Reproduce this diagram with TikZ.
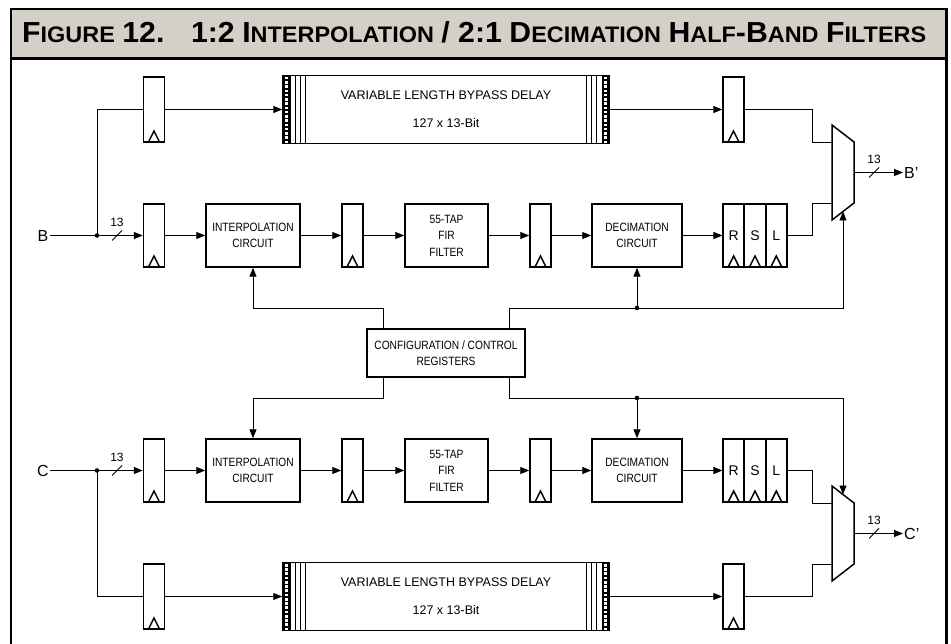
\documentclass[tikz,border=0pt]{standalone}
\usepackage{fontspec}
\setmainfont{Liberation Sans}
\newfontfamily\narrowsf[FakeStretch=0.85]{Liberation Sans}
\newfontfamily\titlesf{Liberation Sans}
\usepackage{graphicx}
\usepackage{tikz}
\usetikzlibrary{arrows.meta, positioning, calc}
\definecolor{titlegray}{HTML}{D4D0C8}
\newcommand\tcap[1]{{\fontsize{29}{29}\selectfont#1}}
\newcommand\tsm[1]{{\fontsize{22.5}{22.5}\selectfont#1}}
\tikzset{
  wire/.style={line width=0.9pt},
  arr/.style={wire, -{Triangle[length=9pt, width=7pt]}},
  reg/.style={rectangle, draw, line width=1.5pt, minimum width=21pt, minimum height=63pt, inner sep=0pt, font=\fontsize{14}{14}\selectfont,
    path picture={\draw[line width=1.5pt, line join=miter] ([xshift=-5.5pt]path picture bounding box.south) -- ([yshift=11pt]path picture bounding box.south) -- ([xshift=5.5pt]path picture bounding box.south);}},
  blk/.style={rectangle, draw, line width=1.5pt, minimum height=63pt, align=center, font=\narrowsf\fontsize{12}{16.5}\selectfont, inner sep=2pt},
  dly/.style={rectangle, draw, line width=1.5pt, minimum width=326pt, minimum height=68pt, align=center, font=\fontsize{12.5}{28}\selectfont,
    path picture={
      \fill (path picture bounding box.north west) rectangle ([xshift=7.5pt]path picture bounding box.south west);
      \fill ([xshift=-7.5pt]path picture bounding box.north east) rectangle (path picture bounding box.south east);
      \foreach \k in {0,...,15}{
        \fill[white] ([xshift=2.3pt,yshift={-1.4pt-\k*4.25pt}]path picture bounding box.north west) rectangle ++(3,2.6);
        \fill[white] ([xshift=-5.3pt,yshift={-1.4pt-\k*4.25pt}]path picture bounding box.north east) rectangle ++(3,2.6);
      }
      \foreach \d in {12.5,17.5,22.5}{
        \draw[line width=0.9pt] ([xshift=\d pt]path picture bounding box.north west) -- ([xshift=\d pt]path picture bounding box.south west);
        \draw[line width=0.9pt] ([xshift=-\d pt]path picture bounding box.north east) -- ([xshift=-\d pt]path picture bounding box.south east);
      }}},
  io/.style={font=\fontsize{16}{16}\selectfont, inner sep=1pt},
  bus/.pic={\draw[wire] (-5,5) -- (5,-5); \node[font=\fontsize{12}{12}\selectfont] (-w) at (0,-13) {13};},
}

\begin{document}
\begin{tikzpicture}[x=1pt, y=-1pt]
\useasboundingbox (0,0) rectangle (951,644);
% frame and title
\fill[titlegray] (11,9) rectangle (946.5,58);
\draw[line width=2.8pt] (11,660) -- (11,9) -- (946.5,9) -- (946.5,660);
\draw[line width=3pt] (11,58.3) -- (946.5,58.3);
\node[inner sep=0pt, anchor=base west] (title) at (22,43)
  {\resizebox{904pt}{21pt}{\titlesf\bfseries\fontsize{26}{26}\selectfont\tcap{F}\tsm{IGURE} \tcap{12.}\hspace{16pt} \tcap{1:2} \tcap{I}\tsm{NTERPOLATION} \tcap{/ 2:1} \tcap{D}\tsm{ECIMATION} \tcap{H}\tsm{ALF}\tcap{-B}\tsm{AND} \tcap{F}\tsm{ILTERS}}};

\node[blk, minimum width=158pt, minimum height=48pt] (ctrl) at (446,353) {CONFIGURATION / CONTROL\\REGISTERS};

\foreach \p/\yc/\s/\side in {B/235.5/1/north, C/470.5/-1/south}{
  \pgfmathsetmacro\yb{\yc-(\s)*126}
  \pgfmathsetmacro\yt{\yc+(\s)*72.5}
  \pgfmathsetmacro\ym{\yc-(\s)*63}
  \pgfmathsetmacro\ya{\ym-(\s)*30.5}
  \pgfmathsetmacro\yd{\ym+(\s)*30.5}
  \pgfmathsetmacro\ys{\ym+(\s)*39}
  % main path
  \node[io] (in\p) at (43,\yc) {\p};
  \node[reg] (reg\p1) at (154,\yc) {};
  \node[blk, minimum width=94pt] (int\p) at (253,\yc) {INTERPOLATION\\CIRCUIT};
  \node[reg] (reg\p2) at (352.5,\yc) {};
  \node[blk, minimum width=83pt] (fir\p) at (446.5,\yc) {55-TAP\\FIR\\FILTER};
  \node[reg] (reg\p3) at (540.5,\yc) {};
  \node[blk, minimum width=90pt] (dec\p) at (637,\yc) {DECIMATION\\CIRCUIT};
  \node[reg] (r\p) at (733.7,\yc) {R};
  \node[reg] (s\p) at (755,\yc) {S};
  \node[reg] (l\p) at (776.3,\yc) {L};
  % bypass path
  \node[reg, minimum height=65pt] (byp\p1) at (154,\yb) {};
  \node[dly] (dly\p) at (446,\yb) {VARIABLE LENGTH BYPASS DELAY\\127 x 13-Bit};
  \node[reg, minimum height=65pt] (byp\p2) at (733.5,\yb) {};
  % mux
  \draw[line width=1.5pt] (832,{\ym-47.5}) -- (854,{\ym-30.5}) -- (854,{\ym+30.5}) -- (832,{\ym+47.5}) -- cycle;
  \coordinate (mux\p-a) at (832,\ya);
  \coordinate (mux\p-b) at (832,\yd);
  \coordinate (mux\p-s) at (843,\ys);
  \coordinate (mux\p-o) at (854,\ym);
  \node[io, anchor=west] (out\p) at (903,\ym) {\p'};
  % wires
  \coordinate (sp\p) at (97,\yc);
  \fill (sp\p) circle (2.3pt);
  \draw[wire] (in\p) -- (sp\p);
  \draw[arr] (sp\p) -- (reg\p1);
  \pic (busin\p) at (117,\yc) {bus};
  \draw[wire] (sp\p) |- (byp\p1);
  \draw[arr] (byp\p1) -- (dly\p);
  \draw[arr] (dly\p) -- (byp\p2);
  \draw[wire] (byp\p2) -| (812,\ya) -- (mux\p-a);
  \foreach \a/\b in {reg\p1/int\p, int\p/reg\p2, reg\p2/fir\p, fir\p/reg\p3, reg\p3/dec\p, dec\p/r\p}
    \draw[arr] (\a) -- (\b);
  \draw[wire] (l\p) -| (812,\yd) -- (mux\p-b);
  \draw[arr] (mux\p-o) -- (out\p);
  \pic (busout\p) at (874,\ym) {bus};
  % control
  \coordinate (tapL\p) at (383,\yt);
  \coordinate (tapR\p) at (509,\yt);
  \coordinate (dot\p) at (637,\yt);
  \draw[arr] (ctrl.\side -| tapL\p) -- (tapL\p) -| (int\p);
  \draw[arr] (ctrl.\side -| tapR\p) -- (tapR\p) -| (mux\p-s);
  \fill (dot\p) circle (2.3pt);
  \draw[arr] (dot\p) -- (dec\p);
}
\end{tikzpicture}
\end{document}
